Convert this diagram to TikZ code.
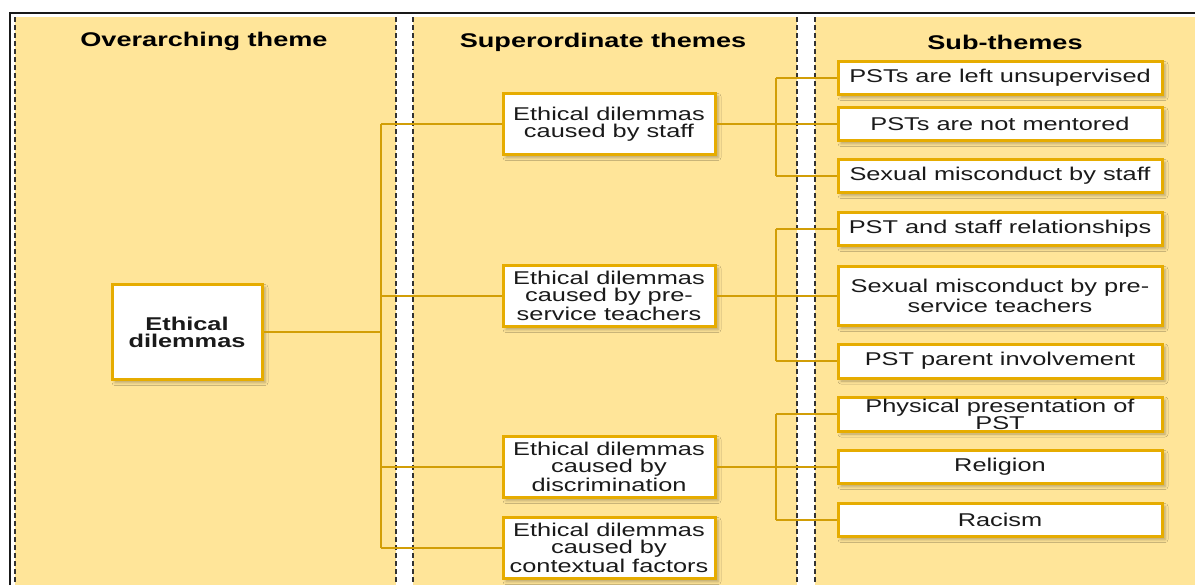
\documentclass[tikz,border=0pt]{standalone}
\usepackage{fontspec}
\setmainfont{Liberation Sans}[FakeStretch=1.37]
\usetikzlibrary{shadows.blur}
\definecolor{panel}{HTML}{FFE599}
\definecolor{gold}{HTML}{E6AC00}
\definecolor{link}{HTML}{D29E06}
\definecolor{ink}{HTML}{1A1A1A}

\begin{document}
\begin{tikzpicture}[x=0.5pt,y=-0.5pt,
  bodyfont/.style={font=\fontsize{9.25}{8.4}\selectfont},
  box/.style={draw=gold, line width=1.5pt, fill=white, inner sep=0pt,
    align=center, text=ink, bodyfont,
    blur shadow={shadow xshift=1.5pt, shadow yshift=-1.5pt,
      shadow opacity=30, shadow blur steps=4, shadow blur radius=1.5pt}},
  rootbox/.style={box, minimum width=75pt, minimum height=47.5pt,
    font=\fontsize{9.25}{8.4}\selectfont\bfseries},
  superbox/.style={box, minimum width=106pt, minimum height=30.5pt},
  subbox/.style={box, minimum width=162pt, minimum height=16.5pt},
  head/.style={font=\fontsize{9.9}{10}\selectfont\bfseries, text=black},
  divider/.style={draw=black!80, line width=0.65pt, dash pattern=on 2.5pt off 1.5pt},
  link/.style={draw=link, line width=1pt},
  frame/.style={draw=black!90, line width=1.3pt}]

  \useasboundingbox (0,0) rectangle (1195,585);

  % column panels
  \fill[panel] (15,17) rectangle (396,585);
  \fill[panel] (413,17) rectangle (797,585);
  \fill[panel] (815,17) rectangle (1195,585);
  \foreach \x in {15,396,413,797,815}
    \draw[divider] (\x,17) -- (\x,585);
  \draw[frame] (10,585) -- (10,13) -- (1195,13);

  % column headings
  \node[head] (h1) at (204,41) {Overarching theme};
  \node[head] (h2) at (603,42) {Superordinate themes};
  \node[head] (h3) at (1005,42) {Sub-themes};

  % overarching theme
  \node[rootbox] (root) at (187,332) {Ethical\\dilemmas};

  % superordinate themes
  \node[superbox] (s1) at (609,124) {Ethical dilemmas\\caused by staff};
  \node[superbox] (s2) at (609,296) {Ethical dilemmas\\caused by pre-\\service teachers};
  \node[superbox] (s3) at (609,467) {Ethical dilemmas\\caused by\\discrimination};
  \node[superbox] (s4) at (609,548) {Ethical dilemmas\\caused by\\contextual factors};

  % sub-themes
  \node[subbox] (u1) at (1000,78) {PSTs are left unsupervised};
  \node[subbox] (u2) at (1000,124) {PSTs are not mentored};
  \node[subbox] (u3) at (1000,176) {Sexual misconduct by staff};
  \node[subbox] (u4) at (1000,229) {PST and staff relationships};
  \node[subbox, minimum height=29.5pt] (u5) at (1000,296) {Sexual misconduct by pre-\\service teachers};
  \node[subbox, minimum height=17pt] (u6) at (1000,361) {PST parent involvement};
  \node[subbox, minimum height=17pt] (u7) at (1000,414) {Physical presentation of\\PST};
  \node[subbox] (u8) at (1000,467) {Religion};
  \node[subbox] (u9) at (1000,520) {Racism};

  % first-level tree
  \coordinate (trunk) at (381,0);
  \draw[link] (root.east) -- (trunk |- root.east);
  \draw[link] (trunk |- s1.west) -- (trunk |- s4.west);
  \foreach \s in {s1,s2,s3,s4}
    \draw[link] (trunk |- \s.west) -- (\s.west);

  % second-level trees
  \coordinate (branch) at (776,0);
  \foreach \s/\a/\b in {s1/u1/u3, s2/u4/u6, s3/u7/u9} {
    \draw[link] (\s.east) -- (branch |- \s.east);
    \draw[link] (branch |- \a.west) -- (branch |- \b.west);
  }
  \foreach \u in {u1,u2,u3,u4,u5,u6,u7,u8,u9}
    \draw[link] (branch |- \u.west) -- (\u.west);
\end{tikzpicture}
\end{document}
